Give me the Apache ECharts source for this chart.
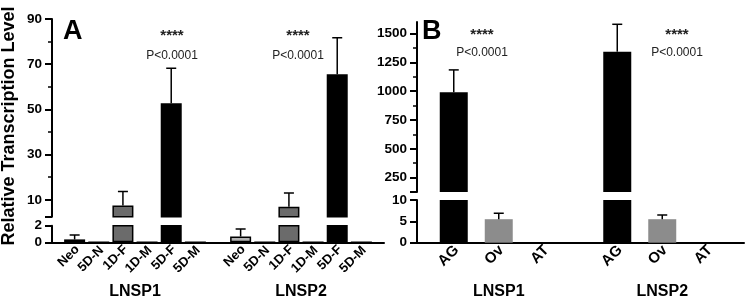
<!DOCTYPE html>
<html><head><meta charset="utf-8">
<script src="https://cdn.jsdelivr.net/npm/echarts@6/dist/echarts.min.js"></script>
<style>html,body{margin:0;padding:0;background:#fff}#c{width:750px;height:303px}</style>
</head><body><div id="c"></div>
<script>
// ---------- data ----------
const genes = ['LNSP1', 'LNSP2'];
// Panel A
const groupsA = ['Neo', '5D-N', '1D-F', '1D-M', '5D-F', '5D-M'];
const meanA_LNSP1 = [0.35, 0, 7.5, 0, 52.7, 0];
const errA_LNSP1  = [0.52, 0, 6.2, 0, 15.5, 0];
const meanA_LNSP2 = [0.7, 0, 6.9, 0, 65.6, 0];
const errA_LNSP2  = [0.9, 0, 6.1, 0, 16.1, 0];
// Panel B
const groupsB = ['AG', 'Ov', 'AT'];
const meanB_LNSP1 = [990, 5.5, 0];
const errB_LNSP1  = [195, 1.4, 0];
const meanB_LNSP2 = [1343, 5.5, 0];
const errB_LNSP2  = [238, 1.0, 0];
// tick labels
const ticksA_upper = [10, 30, 50, 70, 90];
const minorA_upper = [20, 40, 60, 80];
const ticksA_lower = [0, 2];
const ticksB_upper = [250, 500, 750, 1000, 1250, 1500];
const minorB_upper = [375, 625, 875, 1125, 1375];
const ticksB_lower = [0, 5, 10];
const annotStars = '****';
const annotP = 'P<0.0001';

// ---------- styles ----------
const FAM = 'Liberation Sans';
const colorsA = ['#b3b3b3', '#ffffff', '#6b6b6b', '#ffffff', '#000000', '#ffffff'];
const colorsB = ['#000000', '#8c8c8c', '#ffffff'];
const BW_A = 21, GAP_A = 0.15;
const BW_B = 28, GAP_B = 0.607;

const chart = echarts.init(document.getElementById('c'), null, {renderer: 'canvas'});

const grids = [
  {left: 52, top: 19, width: 332, height: 197.75},
  {left: 52, top: 225.7, width: 332, height: 16.6},
  {left: 417, top: 22.1, width: 327, height: 169.9},
  {left: 417, top: 200, width: 327, height: 42.7}
];

function boldRich(size) {
  return {b: {fontFamily: FAM, fontWeight: 'bold', fontSize: size, color: '#000'}};
}

function hiddenX(gi) {
  return {type: 'category', gridIndex: gi, data: genes, show: false};
}
function shownX(gi) {
  return {
    type: 'category', gridIndex: gi, data: genes,
    axisLine: {lineStyle: {color: '#000', width: 2}},
    axisTick: {show: false},
    axisLabel: {margin: 41, formatter: function (v) { return '{b|' + v + '}'; }, rich: boldRich(16)}
  };
}
function mainY(gi, min, max, ticks, labels) {
  return {
    type: 'value', gridIndex: gi, min: min, max: max, position: 'left',
    splitLine: {show: false},
    axisLine: {show: true, lineStyle: {color: '#000', width: 2}},
    axisTick: {show: true, length: 7, lineStyle: {color: '#000', width: 2}, customValues: ticks},
    axisLabel: {margin: 10, customValues: labels,
      formatter: function (v) { return '{b|' + String(v) + '}'; }, rich: boldRich(13.5)}
  };
}
function minorY(gi, min, max, ticks) {
  return {
    type: 'value', gridIndex: gi, min: min, max: max, position: 'left', offset: 0,
    splitLine: {show: false},
    axisLine: {show: false},
    axisTick: {show: true, length: 4, lineStyle: {color: '#000', width: 1.5}, customValues: ticks},
    axisLabel: {show: false}
  };
}

const xAxis = [hiddenX(0), shownX(1), hiddenX(2), shownX(3)];
const yAxis = [
  mainY(0, 2.5, 90, [2.5].concat(ticksA_upper), ticksA_upper),
  minorY(0, 2.5, 90, minorA_upper),
  mainY(1, 0, 2, ticksA_lower, ticksA_lower),
  mainY(2, 125, 1600, [125].concat(ticksB_upper), ticksB_upper),
  minorY(2, 125, 1600, minorB_upper),
  mainY(3, 0, 10, ticksB_lower, ticksB_lower)
];

const series = [];
function addBars(groups, m1, m2, colors, bw, gap, xi, yi, withLabel, fontSize, bordered, lblDist) {
  groups.forEach(function (g, i) {
    series.push({
      type: 'bar', name: g, xAxisIndex: xi, yAxisIndex: yi,
      data: [m1[i], m2[i]],
      barWidth: bw, barGap: (gap * 100) + '%', clip: true, silent: true,
      itemStyle: {color: colors[i], borderColor: bordered[i] ? '#000' : colors[i], borderWidth: bordered[i] ? 1.5 : 0},
      label: withLabel ? {
        show: true, position: 'bottom', distance: lblDist, rotate: 45,
        align: 'right', verticalAlign: 'middle', offset: [4, 0],
        formatter: function () { return '{b|' + g + '}'; },
        rich: boldRich(fontSize)
      } : {show: false}
    });
  });
}
function errRender(n, bw, gap) {
  const step = bw * (1 + gap);
  return function (params, api) {
    const gi = api.value(0), mean = api.value(1), err = api.value(2), si = api.value(3);
    if (!err) return null;
    const b = api.coord([gi, mean]);
    const t = api.coord([gi, mean + err]);
    const x = b[0] + (si - (n - 1) / 2) * step;
    const cap = 5;
    return {type: 'group', children: [
      {type: 'line', shape: {x1: x, y1: b[1], x2: x, y2: t[1]}, style: {stroke: '#000', lineWidth: 1.5}},
      {type: 'line', shape: {x1: x - cap, y1: t[1], x2: x + cap, y2: t[1]}, style: {stroke: '#000', lineWidth: 1.5}}
    ]};
  };
}
function errData(m1, e1, m2, e2) {
  const d = [];
  m1.forEach(function (v, i) { d.push([0, v, e1[i], i]); });
  m2.forEach(function (v, i) { d.push([1, v, e2[i], i]); });
  return d;
}
function addErr(n, bw, gap, xi, yi, data) {
  series.push({
    type: 'custom', xAxisIndex: xi, yAxisIndex: yi, clip: true, silent: true, z: 5,
    renderItem: errRender(n, bw, gap), data: data,
    encode: {x: 0, y: 1}
  });
}
const borderA = [true, true, true, true, true, true];
const borderB = [false, false, false];
addBars(groupsA, meanA_LNSP1, meanA_LNSP2, colorsA, BW_A, GAP_A, 0, 0, false, 13, borderA, 8);
addBars(groupsA, meanA_LNSP1, meanA_LNSP2, colorsA, BW_A, GAP_A, 1, 2, true, 13, borderA, 8);
addBars(groupsB, meanB_LNSP1, meanB_LNSP2, colorsB, BW_B, GAP_B, 2, 3, false, 15, borderB, 8);
addBars(groupsB, meanB_LNSP1, meanB_LNSP2, colorsB, BW_B, GAP_B, 3, 5, true, 15, borderB, 8);
const eA = errData(meanA_LNSP1, errA_LNSP1, meanA_LNSP2, errA_LNSP2);
const eB = errData(meanB_LNSP1, errB_LNSP1, meanB_LNSP2, errB_LNSP2);
addErr(groupsA.length, BW_A, GAP_A, 0, 0, eA);
addErr(groupsA.length, BW_A, GAP_A, 1, 2, eA);
addErr(groupsB.length, BW_B, GAP_B, 2, 3, eB);
addErr(groupsB.length, BW_B, GAP_B, 3, 5, eB);

function annot(x, yStar, yP) {
  return [
    {type: 'text', x: x, y: yStar, style: {text: annotStars, fontFamily: FAM, fontWeight: 'bold', fontSize: 15, fill: '#222', align: 'center', verticalAlign: 'middle'}},
    {type: 'text', x: x, y: yP, style: {text: annotP, fontFamily: FAM, fontSize: 12, fill: '#222', align: 'center', verticalAlign: 'middle'}}
  ];
}

const graphic = [
  {type: 'text', x: 9, y: 126, rotation: Math.PI / 2,
   style: {text: 'Relative Transcription Level', fontFamily: FAM, fontWeight: 'bold', fontSize: 18, fill: '#000', align: 'center', verticalAlign: 'middle'}},
  {type: 'text', x: 63, y: 32, style: {text: 'A', fontFamily: FAM, fontWeight: 'bold', fontSize: 27, fill: '#000', verticalAlign: 'middle'}},
  {type: 'text', x: 422, y: 32, style: {text: 'B', fontFamily: FAM, fontWeight: 'bold', fontSize: 27, fill: '#000', verticalAlign: 'middle'}}
].concat(annot(172, 36, 56), annot(298, 36, 56), annot(482, 35, 53), annot(677, 35, 53));

chart.setOption({
  animation: false,
  backgroundColor: '#fff',
  grid: grids,
  xAxis: xAxis,
  yAxis: yAxis,
  series: series,
  graphic: graphic
});
</script>
</body></html>
